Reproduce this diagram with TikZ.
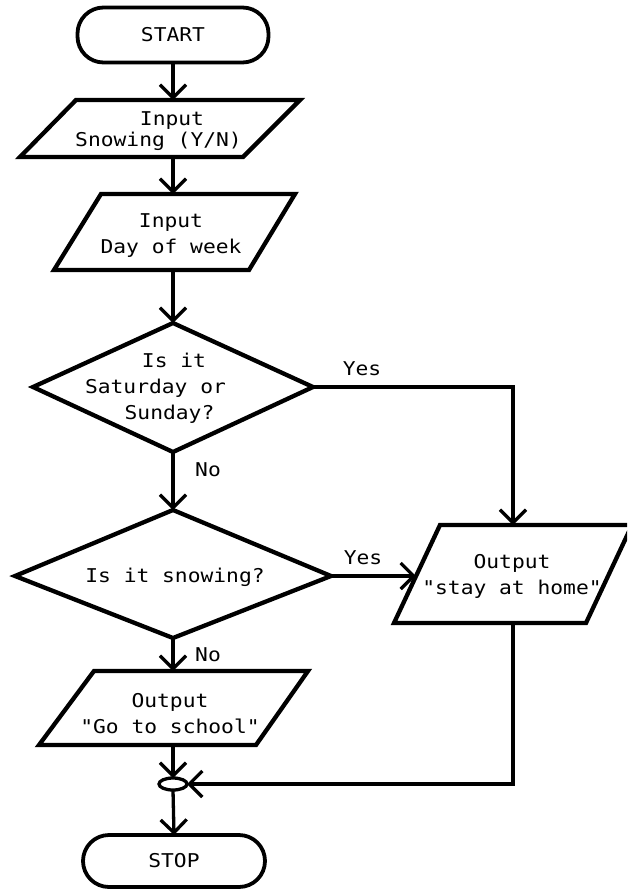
\documentclass[tikz,border=0pt]{standalone}
\usepackage{fontspec}
\usetikzlibrary{arrows.meta,shapes.geometric}
\newfontfamily\chartfont[FakeStretch=1.12]{DejaVu Sans Mono}
\tikzset{
  every node/.style={inner sep=0pt, outer sep=0pt},
  txt/.style={font=\chartfont\fontsize{19}{26}\selectfont, align=center},
  box/.style={draw=black, line width=4.3pt, line join=miter},
  terminal/.style={draw=black, line width=3.8pt, rounded corners=26pt,
    font=\chartfont\fontsize{19}{26}\selectfont},
  flow/.style={line width=3.3pt, -{Straight Barb[length=13pt,width=26pt]}},
}
\begin{document}
\begin{tikzpicture}[x=1pt,y=-1pt]
\clip (0,0) rectangle (627,889);

% start and stop terminals
\node[terminal, minimum width=191pt, minimum height=55pt] (start) at (173,35) {START};
\node[terminal, minimum width=182pt, minimum height=52pt] (stop) at (174,861) {STOP};

% input: snowing
\draw[box] (76,100) -- (300,100) -- (243,157) -- (20,157) -- cycle;
\coordinate (i1t) at (173,100);
\coordinate (i1b) at (173,157);
\node[txt, font=\chartfont\fontsize{19}{21}\selectfont] (in1) at (172,131)
  {Input\\Snowing (Y/N)\rule{27pt}{0pt}};

% input: day of week
\draw[box] (101,194) -- (295,194) -- (249,270) -- (54,270) -- cycle;
\coordinate (i2t) at (173,194);
\coordinate (i2b) at (173,270);
\node[txt] (in2) at (171,236) {Input\\Day of week};

% decision: weekend
\draw[box] (173,323) -- (313,387) -- (173,452) -- (33,387) -- cycle;
\coordinate (d1t) at (173,323);
\coordinate (d1r) at (313,387);
\coordinate (d1b) at (173,452);
\node[txt] (q1) at (174,388)
  {Is it\\Saturday or\rule{37pt}{0pt}\\Sunday?\rule{9pt}{0pt}};

% decision: snowing
\draw[box] (173,510) -- (331,576) -- (173,638) -- (15,576) -- cycle;
\coordinate (d2t) at (173,510);
\coordinate (d2r) at (331,576);
\coordinate (d2b) at (173,638);
\node[txt] (q2) at (175,577) {Is it snowing?};

% output: stay at home
\draw[box] (440,525) -- (632,525) -- (586,623) -- (394,623) -- cycle;
\coordinate (o1t) at (513,525);
\coordinate (o1l) at (416,576);
\coordinate (o1b) at (513,623);
\node[txt] (out1) at (512,576) {Output\\"stay at home"};

% output: go to school
\draw[box] (94,671) -- (308,671) -- (256,745) -- (39,745) -- cycle;
\coordinate (o2t) at (173,671);
\coordinate (o2b) at (173,745);
\node[txt] (out2) at (170,714) {Output\\"Go to school"};

% junction
\node[draw=black, ellipse, line width=3.3pt, minimum width=28pt, minimum height=12pt] (junc) at (173,784) {};

% connectors
\draw[flow] (start.south) -- (i1t);
\draw[flow] (i1b) -- (i2t);
\draw[flow] (i2b) -- (d1t);
\draw[flow] (d1b) -- (d2t);
\draw[flow] (d1r) -| (o1t);
\draw[flow] (d2r) -- (o1l);
\draw[flow] (d2b) -- (o2t);
\draw[flow] (o2b) -- (junc.north);
\draw[flow] (o1b) |- (junc.east);
\draw[flow] (junc.south) -- (stop.north);

% branch labels
\node[txt] (yes1) at (362,369) {Yes};
\node[txt] (no1) at (208,470) {No};
\node[txt] (yes2) at (363,558) {Yes};
\node[txt] (no2) at (208,655) {No};
\end{tikzpicture}
\end{document}
